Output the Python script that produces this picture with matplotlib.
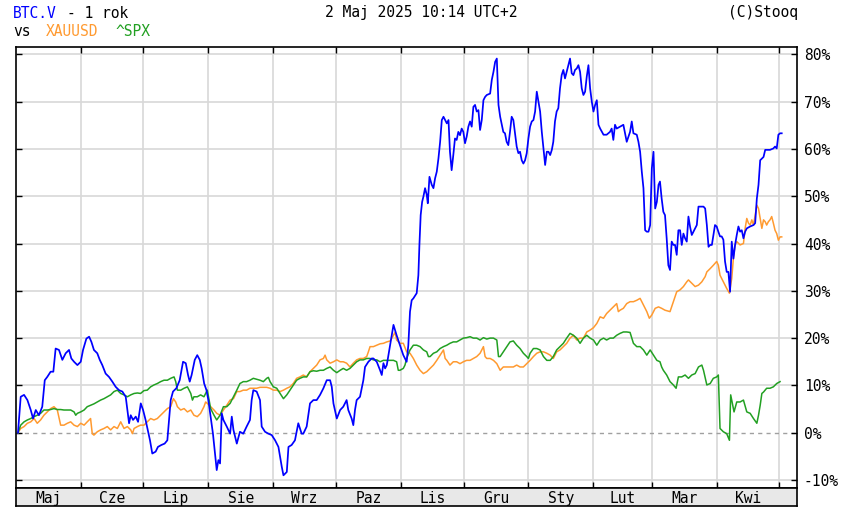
import numpy as np
import pandas as pd
import matplotlib.pyplot as plt
import matplotlib.dates as mdates

# -------------------------
# dane: dni od 2024-05-01, zmiana % od 2024-05-01
# -------------------------
btc_day = [1.0, 2.3, 3.9, 5.5, 7.1, 8.2, 9.5, 11.0, 12.6, 13.8, 15.0, 16.6, 17.9, 19.0, 20.6, 22.2, 23.8, 25.4,
           26.5, 27.8, 29.4, 31.0, 32.1, 33.7, 35.0, 36.1, 37.3, 38.9, 40.1, 41.3, 42.9, 44.5, 46.1, 47.7, 49.3,
           50.9, 52.5, 53.3, 54.1, 54.9, 56.0, 57.3, 58.4, 59.7, 60.8, 62.0, 63.2, 64.1, 65.2, 66.8, 67.9, 69.5,
           71.1, 72.4, 73.2, 74.0, 75.1, 76.7, 78.3, 79.9, 81.2, 82.3, 83.1, 84.0, 85.5, 86.7, 87.9, 88.8, 90.0,
           91.1, 92.0, 93.1, 94.2, 95.2, 96.0, 96.8, 97.6, 98.4, 99.2, 100.8, 102.4, 103.2, 104.0, 105.6, 107.1,
           108.7, 110.3, 111.9, 112.7, 113.5, 115.1, 116.7, 117.5, 119.1, 120.7, 122.3, 123.9, 125.5, 127.1,
           127.9, 129.5, 130.3, 131.8, 133.4, 135.0, 135.8, 136.6, 137.4, 139.0, 140.6, 142.2, 143.8, 145.4,
           147.0, 148.6, 150.2, 151.0, 151.8, 153.4, 155.0, 156.5, 158.1, 158.9, 160.5, 161.3, 162.1, 162.9,
           164.5, 166.1, 166.9, 168.5, 170.1, 170.9, 172.5, 174.1, 174.9, 175.7, 176.5, 177.3, 178.9, 180.5,
           182.0, 183.6, 185.2, 186.8, 187.6, 188.4, 189.2, 190.0, 191.6, 192.4, 192.9, 193.5, 194.2, 194.8,
           195.6, 196.4, 196.9, 197.7, 198.8, 199.6, 200.4, 201.2, 202.0, 202.8, 203.6, 204.4, 205.2, 206.0,
           206.8, 207.5, 208.3, 209.1, 209.9, 210.7, 211.5, 212.3, 213.1, 213.9, 214.7, 215.5, 216.3, 217.1,
           217.9, 218.7, 219.5, 220.3, 221.1, 221.9, 222.7, 223.5, 224.3, 225.1, 226.7, 227.5, 228.3, 229.1,
           229.9, 230.2, 230.7, 231.5, 232.3, 233.0, 233.8, 234.6, 235.4, 236.2, 237.0, 237.8, 238.6, 239.4,
           240.2, 241.0, 241.8, 242.6, 243.4, 244.2, 245.0, 245.8, 246.6, 247.4, 248.2, 249.0, 249.8, 250.6,
           251.4, 252.2, 253.0, 253.8, 254.6, 255.4, 256.2, 256.9, 257.7, 258.5, 259.3, 260.1, 260.9, 261.7,
           262.5, 263.3, 264.1, 264.9, 265.7, 266.5, 267.3, 268.1, 268.9, 269.7, 270.5, 271.3, 272.1, 272.9,
           273.7, 274.5, 275.3, 276.1, 276.9, 277.7, 278.5, 279.3, 280.9, 282.4, 284.0, 284.8, 285.6, 286.4,
           287.2, 288.8, 290.4, 291.2, 292.0, 293.6, 294.4, 295.2, 296.8, 297.6, 298.4, 299.2, 300.0, 300.8,
           301.6, 302.4, 303.2, 304.0, 304.8, 305.6, 306.4, 307.2, 307.9, 308.7, 309.5, 310.3, 311.1, 311.9,
           312.7, 313.5, 314.3, 315.1, 315.9, 316.7, 317.5, 318.3, 319.1, 319.9, 320.7, 321.5, 322.3, 323.1,
           323.9, 325.5, 326.3, 327.1, 328.7, 329.5, 330.3, 331.1, 331.9, 332.7, 334.2, 335.0, 335.8, 336.6,
           337.4, 338.2, 339.0, 339.8, 340.6, 341.4, 342.2, 343.0, 343.8, 344.6, 345.4, 346.2, 347.0, 347.8,
           348.6, 349.4, 351.0, 352.6, 353.4, 354.2, 355.0, 355.8, 357.4, 358.2, 360.5, 362.1, 362.9, 363.7,
           364.5, 365.3, 366.1]
btc_pct = [0.0, 7.6, 8.0, 6.9, 4.8, 3.0, 4.8, 3.7, 5.5, 11.1, 11.8, 12.9, 12.9, 17.8, 17.5, 15.4, 16.8, 17.5,
           15.7, 15.0, 14.3, 15.0, 17.5, 19.9, 20.3, 19.2, 17.5, 16.8, 15.4, 14.3, 12.5, 11.8, 10.8, 9.7, 9.0,
           8.7, 7.6, 4.8, 2.0, 3.7, 2.7, 3.4, 2.3, 6.2, 4.8, 2.7, 0.2, -1.6, -4.4, -4.0, -3.0, -2.6,
           -2.3, -1.6, 2.7, 6.9, 8.7, 9.4, 11.1, 15.0, 14.7, 12.2, 10.8, 12.2, 15.4, 16.4, 15.4, 13.6, 10.4,
           9.0, 6.9, 3.4, -0.2, -4.4, -7.9, -5.8, -6.5, 4.1, 2.7, 1.3, -0.2, 3.4, 0.6, -2.3, 0.2,
           -0.2, 1.3, 2.7, 6.9, 9.0, 8.7, 6.9, 1.3, 0.2, -0.2, -0.5, -1.6, -3.0, -7.2,
           -9.0, -8.3, -3.0, -2.6, -1.6, 2.0, 0.9, -0.2, -0.2, 1.3, 6.2, 6.9, 6.9, 8.0,
           9.4, 11.1, 11.1, 9.7, 6.2, 3.0, 4.8, 5.5, 6.9, 4.8, 3.0, 1.6, 4.8, 6.9,
           7.6, 11.1, 13.9, 15.0, 15.7, 15.7, 15.0, 13.2, 12.2, 14.7, 13.6, 14.3, 18.5, 22.8,
           20.6, 18.5, 16.4, 15.0, 18.5, 25.6, 28.0, 28.4, 29.5, 33.3, 39.7, 46.0, 48.8, 49.9,
           51.7, 50.3, 48.5, 54.1, 52.4, 51.7, 53.8, 55.2, 58.0, 61.5, 66.1, 66.8, 66.1, 65.4,
           66.1, 59.4, 55.5, 58.7, 62.2, 61.9, 63.6, 62.9, 64.3, 63.6, 61.2, 62.6, 64.7, 65.8,
           64.7, 68.9, 69.3, 67.9, 68.2, 64.0, 66.1, 70.3, 71.0, 71.4, 71.7, 74.6, 76.3, 78.4,
           79.1, 75.6, 69.3, 66.8, 65.1, 63.6, 63.3, 61.5, 60.8, 63.6, 66.8, 66.1, 63.3, 60.5,
           59.1, 59.4, 57.6, 56.9, 57.6, 59.1, 62.2, 64.7, 65.8, 66.1, 67.9, 72.1, 70.0, 67.9,
           63.6, 60.1, 56.6, 59.4, 59.4, 58.7, 59.8, 61.5, 65.8, 67.9, 68.6, 72.8, 75.6, 76.7,
           74.9, 76.3, 77.7, 79.1, 76.0, 75.6, 76.7, 77.0, 77.7, 76.3, 72.8, 71.4, 72.1, 75.3,
           77.7, 72.8, 70.0, 67.9, 69.3, 70.3, 65.1, 64.3, 63.0, 63.0, 63.6, 64.3, 61.9, 65.1,
           64.3, 64.7, 65.1, 63.3, 61.5, 63.6, 65.8, 63.3, 63.0, 61.5, 59.4, 55.2, 51.7, 42.8,
           42.5, 42.5, 43.9, 55.9, 59.4, 47.4, 48.8, 52.4, 53.1, 49.5, 46.7, 46.0, 41.1, 35.4,
           34.4, 40.4, 39.7, 39.7, 37.6, 42.8, 42.8, 39.7, 42.1, 41.1, 40.4, 45.7, 43.5, 41.8,
           42.5, 43.9, 47.8, 47.8, 47.8, 47.4, 43.9, 39.3, 39.7, 39.7, 43.9, 43.6, 42.5, 41.5,
           41.5, 40.8, 36.2, 34.0, 34.0, 29.8, 40.4, 36.8, 39.7, 41.8, 43.6, 42.5, 42.8, 41.1,
           42.5, 43.2, 43.6, 43.9, 44.3, 49.5, 52.4, 57.6, 58.3, 59.8, 59.8, 60.1, 60.5, 60.1,
           63.0, 63.3, 63.3]

xau_day = [1.0, 2.3, 3.9, 5.5, 7.1, 8.7, 10.2, 11.8, 13.4, 15.0, 16.6, 18.2, 19.8, 21.4, 23.0, 24.6, 26.2,
           27.8, 29.4, 31.0, 32.6, 34.1, 35.7, 36.5, 37.3, 38.9, 40.5, 42.1, 43.7, 45.3, 46.9, 48.5, 50.1,
           51.7, 53.3, 54.9, 55.7, 56.5, 58.1, 59.6, 61.2, 62.8, 64.4, 66.0, 67.6, 69.2, 70.8, 72.4, 74.0,
           75.3, 76.4, 77.2, 78.8, 80.4, 82.0, 83.6, 85.1, 86.7, 88.3, 89.9, 90.7, 91.5, 93.1, 94.7, 96.0,
           97.6, 99.2, 100.8, 102.4, 104.0, 105.6, 107.1, 108.7, 110.3, 111.9, 113.5, 115.1, 116.7, 118.3,
           119.9, 121.5, 123.1, 124.7, 126.3, 127.9, 129.5, 131.0, 132.6, 134.2, 135.8, 137.4, 139.0, 140.6,
           142.2, 143.8, 145.4, 147.0, 147.8, 148.6, 150.2, 151.8, 153.4, 155.0, 156.5, 158.1, 159.7, 161.3,
           162.9, 164.5, 166.1, 167.7, 168.5, 169.3, 170.9, 172.5, 174.1, 175.7, 177.3, 178.9, 180.5, 181.3,
           182.0, 183.6, 185.2, 186.8, 188.4, 190.0, 191.6, 193.2, 194.8, 196.4, 198.0, 199.6, 201.2, 202.8,
           204.4, 205.2, 206.0, 207.5, 209.1, 210.7, 212.3, 213.9, 215.5, 217.1, 218.7, 220.3, 221.9, 223.5,
           224.3, 225.1, 226.7, 228.3, 229.9, 231.5, 233.0, 234.6, 236.2, 237.8, 239.4, 241.0, 242.6, 244.2,
           245.8, 247.4, 249.0, 250.6, 252.2, 253.8, 255.4, 256.9, 258.5, 260.1, 261.7, 263.3, 264.9, 266.5,
           268.1, 269.7, 271.3, 272.9, 274.5, 276.1, 277.7, 279.3, 280.9, 282.4, 284.0, 285.6, 287.2, 288.0,
           288.8, 290.4, 292.0, 293.6, 295.2, 296.8, 298.4, 300.0, 301.6, 302.8, 304.0, 305.6, 307.2, 308.7,
           310.3, 312.7, 314.3, 315.9, 317.5, 319.1, 320.7, 321.5, 323.1, 324.7, 326.3, 327.9, 329.5, 330.3,
           331.9, 333.4, 335.0, 335.8, 336.6, 338.2, 339.8, 341.1, 342.2, 343.0, 343.8, 344.6, 346.2, 347.8,
           348.6, 349.4, 350.2, 351.0, 351.8, 352.6, 353.4, 354.2, 355.0, 355.8, 356.6, 357.4, 358.2, 358.9,
           359.7, 360.5, 361.3, 362.1, 362.9, 363.7, 364.5, 365.3, 366.1]
xau_pct = [0.0, 0.9, 1.3, 2.0, 2.3, 3.0, 2.0, 2.7, 3.7, 4.4, 5.1, 5.5, 4.8, 1.6, 1.6, 2.0, 2.3,
           1.6, 1.3, 2.0, 1.6, 2.3, 3.0, -0.2, -0.5, 0.2, 0.6, 0.9, 1.3, 0.6, 1.3, 0.9, 2.3,
           0.9, 1.3, 0.6, -0.2, 0.9, 1.3, 1.6, 1.6, 2.3, 3.0, 2.7, 3.0, 3.7, 4.4, 5.1, 5.5,
           7.2, 6.5, 5.5, 4.8, 5.1, 4.4, 4.8, 3.7, 3.4, 4.1, 5.5, 6.5, 6.2, 5.5, 4.8, 4.1,
           3.7, 4.8, 5.8, 6.9, 7.2, 8.7, 8.7, 9.0, 9.0, 9.4, 9.4, 9.4, 9.6, 9.6,
           9.6, 9.4, 9.0, 9.0, 8.7, 9.0, 9.4, 9.7, 10.4, 11.5, 11.8, 12.2, 11.8, 12.9,
           13.6, 14.3, 15.4, 15.7, 16.4, 15.4, 14.7, 15.0, 15.4, 15.0, 15.0, 14.7, 13.9, 14.7,
           15.4, 15.7, 15.7, 16.1, 17.1, 18.2, 18.2, 18.5, 18.8, 18.9, 19.2, 19.4, 20.6, 21.3,
           19.6, 18.9, 18.9, 17.1, 16.8, 15.7, 14.3, 13.2, 12.5, 12.9, 13.6, 14.3, 15.3, 16.4,
           17.5, 15.7, 15.3, 14.3, 15.0, 15.0, 14.6, 15.0, 15.3, 15.3, 15.7, 16.1, 16.8, 18.2,
           16.1, 15.7, 15.7, 15.3, 14.6, 13.2, 13.9, 13.9, 13.9, 13.9, 14.3, 13.9, 13.9, 14.6,
           15.3, 16.1, 16.8, 17.1, 17.1, 16.8, 16.4, 15.7, 17.1, 17.5, 18.2, 18.9, 20.0, 20.6,
           19.6, 20.0, 20.0, 21.3, 21.7, 22.2, 23.1, 24.5, 24.2, 25.2, 25.9, 26.6, 27.3, 25.6,
           25.9, 26.3, 27.3, 27.7, 27.7, 28.0, 28.4, 27.0, 25.6, 24.2, 24.9, 26.3, 26.6, 26.3,
           25.9, 25.6, 27.7, 29.8, 30.2, 30.9, 31.9, 32.3, 31.6, 30.9, 31.2, 31.9, 33.0, 34.0,
           34.7, 35.4, 36.2, 35.4, 33.3, 31.9, 30.5, 29.5, 32.6, 36.9, 39.7, 40.4, 39.7, 40.0,
           43.2, 45.3, 44.3, 43.9, 45.0, 43.9, 46.0, 48.1, 47.4, 45.3, 43.2, 45.0, 44.6, 43.9,
           44.6, 45.0, 45.7, 44.3, 42.8, 42.1, 40.7, 41.4, 41.4]

spx_day = [1.0, 2.3, 3.9, 5.5, 7.1, 8.7, 10.2, 11.8, 13.4, 15.0, 16.6, 18.2, 19.8, 21.4, 23.0, 24.6, 26.2,
           27.8, 28.6, 29.4, 31.0, 32.6, 34.1, 35.7, 37.3, 38.9, 40.5, 42.1, 43.7, 45.3, 46.9, 48.5, 50.1,
           51.7, 53.3, 54.9, 56.5, 58.1, 59.6, 61.2, 62.8, 64.4, 66.0, 67.6, 69.2, 70.8, 72.4, 74.0, 75.6,
           76.4, 77.2, 78.8, 80.4, 82.0, 83.6, 84.4, 85.1, 86.7, 88.3, 89.9, 91.5, 93.1, 94.7, 96.0, 97.6,
           99.2, 100.8, 102.4, 104.0, 105.6, 107.1, 108.7, 110.3, 111.9, 113.5, 115.1, 116.7, 118.3, 119.9,
           120.7, 121.5, 123.1, 124.7, 126.3, 127.9, 129.5, 131.0, 132.6, 134.2, 135.8, 137.4, 139.0, 140.6,
           142.2, 143.8, 145.4, 147.0, 148.6, 150.2, 151.8, 153.4, 155.0, 156.5, 158.1, 159.7, 161.3, 162.9,
           164.5, 166.1, 167.7, 169.3, 170.9, 172.5, 174.1, 175.7, 177.3, 178.9, 180.5, 182.0, 182.8, 183.6,
           185.2, 186.0, 186.8, 188.4, 190.0, 191.6, 193.2, 194.8, 196.4, 197.2, 198.0, 199.6, 201.2, 202.8,
           204.4, 206.0, 207.5, 209.1, 210.7, 212.3, 213.9, 215.5, 217.1, 218.7, 220.3, 221.9, 223.5, 225.1,
           226.7, 228.3, 229.9, 230.7, 231.5, 233.0, 234.6, 236.2, 237.8, 239.4, 241.0, 242.6, 244.2, 245.0,
           245.8, 247.4, 249.0, 250.6, 252.2, 253.8, 255.4, 256.9, 258.5, 260.1, 261.7, 263.3, 264.9, 266.5,
           268.1, 269.7, 271.3, 272.9, 274.5, 276.1, 277.7, 279.3, 280.9, 282.4, 284.0, 285.6, 287.2, 288.8,
           290.4, 292.0, 293.6, 295.2, 296.8, 298.4, 300.0, 301.6, 303.2, 304.8, 306.4, 307.9, 308.7, 309.5,
           311.1, 312.7, 314.3, 315.6, 316.7, 318.3, 319.9, 321.5, 323.1, 324.7, 326.3, 327.9, 328.7, 330.3,
           331.9, 333.4, 335.0, 335.8, 336.6, 338.2, 339.8, 341.1, 341.7, 342.7, 343.3, 344.6, 346.2, 347.8,
           349.4, 351.0, 352.6, 354.2, 355.0, 355.8, 356.6, 357.4, 358.9, 360.5, 362.1, 363.7, 365.3]
spx_pct = [0.0, 1.6, 2.3, 2.7, 3.0, 3.4, 3.7, 4.1, 4.8, 4.8, 4.9, 5.1, 4.9, 4.9, 4.8, 4.8, 4.8,
           4.4, 3.7, 4.1, 4.4, 4.8, 5.5, 5.8, 6.1, 6.5, 6.9, 7.2, 7.6, 8.0, 8.7, 9.0, 8.3,
           8.0, 7.6, 8.0, 8.3, 8.4, 8.3, 8.9, 9.0, 9.7, 10.1, 10.4, 10.8, 11.1, 11.1, 11.5, 11.8,
           10.8, 9.0, 9.0, 9.4, 9.7, 8.3, 6.9, 7.6, 7.6, 8.0, 7.6, 9.0, 5.1, 3.7, 2.7, 3.7,
           5.5, 5.5, 6.2, 7.6, 9.0, 10.4, 10.8, 10.8, 11.1, 11.5, 11.3, 11.1, 10.8, 11.5,
           11.7, 10.8, 9.7, 9.4, 8.3, 7.2, 8.0, 9.0, 10.1, 11.1, 11.5, 11.8, 11.8, 12.9,
           13.1, 13.0, 13.2, 13.2, 13.6, 13.9, 13.2, 12.7, 13.2, 13.6, 13.2, 13.6, 14.3, 15.0,
           15.4, 15.4, 15.7, 15.7, 15.4, 15.4, 15.0, 15.3, 15.3, 15.3, 15.3, 15.0, 13.2, 13.2,
           13.6, 14.3, 15.7, 17.5, 18.5, 18.5, 18.2, 17.5, 17.1, 16.1, 16.1, 16.8, 17.1, 17.8,
           18.2, 18.5, 18.9, 19.2, 19.2, 19.6, 20.0, 20.1, 20.3, 20.0, 20.0, 19.6, 20.1, 19.8,
           20.0, 20.0, 19.6, 16.1, 16.1, 17.1, 18.2, 19.2, 19.4, 18.5, 17.8, 16.8, 16.1, 15.7,
           16.8, 17.8, 17.8, 17.5, 16.1, 15.3, 15.3, 16.1, 17.5, 18.2, 18.9, 20.0, 21.0, 20.6,
           20.0, 18.9, 20.0, 20.6, 20.0, 19.6, 18.5, 19.6, 20.0, 19.6, 20.0, 20.0, 20.6, 21.0,
           21.3, 21.3, 21.2, 18.9, 18.2, 18.2, 17.5, 16.4, 17.5, 16.4, 15.3, 15.0, 13.9, 13.2,
           12.2, 10.8, 10.1, 9.4, 11.8, 11.8, 12.2, 11.5, 12.2, 12.5, 13.9, 14.3, 13.2, 10.1,
           10.4, 11.5, 11.8, 12.2, 0.9, 0.2, -0.2, -1.6, 8.0, 5.8, 4.4, 6.5, 6.5, 6.9,
           4.4, 4.1, 3.0, 2.0, 3.7, 5.8, 8.3, 8.6, 9.4, 9.4, 9.7, 10.4, 10.8]

months_pl = ["Maj", "Cze", "Lip", "Sie", "Wrz", "Paz", "Lis", "Gru", "Sty", "Lut", "Mar", "Kwi"]
y_ticks = list(range(-10, 81, 10))

BLUE = "#0000ff"
ORANGE = "#ff9a30"
GREEN = "#22a022"
FONT = "DejaVu Sans Mono"
plt.rcParams["font.family"] = FONT

W, H = 859, 508
start = mdates.date2num(pd.Timestamp("2024-05-01"))


def to_x(days):
    return start + np.asarray(days)


fig = plt.figure(figsize=(W / 100, H / 100), dpi=100)
ax = fig.add_axes([16 / W, 1 - 488.3 / H, 781 / W, (488.3 - 46.5) / H])
ax.set_xlim(start + 0.05, start + 373.4)
ax.set_ylim(-11.75, 81.65)

month_starts = mdates.date2num(pd.date_range("2024-06-01", "2025-05-01", freq="MS"))
for m in month_starts:
    ax.axvline(m, color="#d8d8d8", lw=1.2, zorder=0)
for v in y_ticks:
    if v != 0:
        ax.axhline(v, color="#d8d8d8", lw=1.2, zorder=0)
ax.axhline(0, color="#a0a0a0", lw=1.0, dashes=(3, 3), zorder=1)

ax.plot(to_x(xau_day), xau_pct, color=ORANGE, lw=1.1, zorder=3)
ax.plot(to_x(spx_day), spx_pct, color=GREEN, lw=1.1, zorder=3)
ax.plot(to_x(btc_day), btc_pct, color=BLUE, lw=1.25, zorder=4)

ax.set_xticks(month_starts)
ax.tick_params(axis="x", direction="in", length=4, width=1, top=True, bottom=True,
               labelbottom=False)
ax.set_yticks(y_ticks)
ax.set_yticklabels([f"{v}%" for v in y_ticks])
ax.yaxis.tick_right()
ax.tick_params(axis="y", direction="in", length=4, width=1, left=True, right=True,
               labelleft=False, labelright=True, labelsize=10.5, pad=5)
for s in ax.spines.values():
    s.set_color("black")
    s.set_linewidth(1.2)

# pasek z miesiacami
bx = fig.add_axes([16 / W, 1 - 506 / H, 781 / W, (506 - 488.3) / H])
bx.set_xlim(ax.get_xlim())
bx.set_ylim(0, 1)
bx.set_facecolor("#e8e8e8")
bx.set_xticks([])
bx.set_yticks([])
for s in bx.spines.values():
    s.set_color("black")
    s.set_linewidth(1.2)
bounds = mdates.date2num(pd.date_range("2024-05-01", "2025-05-01", freq="MS"))
for name, a, b in zip(months_pl, bounds[:-1], bounds[1:]):
    bx.text((a + b) / 2, 0.45, name, ha="center", va="center", fontsize=10.5, color="black")

# naglowek
def ftext(px, py, s, color="black", ha="left"):
    fig.text(px / W, 1 - py / H, s, color=color, ha=ha, va="center", fontsize=10.5)


ftext(13, 13, "BTC.V", BLUE)
ftext(67, 13, "- 1 rok")
ftext(13, 32, "vs")
ftext(46, 32, "XAUUSD", ORANGE)
ftext(115, 32, "^SPX", GREEN)
ftext(421, 13, "2 Maj 2025 10:14 UTC+2", ha="center")
ftext(798, 13, "(C)Stooq", ha="right")

fig.savefig("out.png", dpi=100)
